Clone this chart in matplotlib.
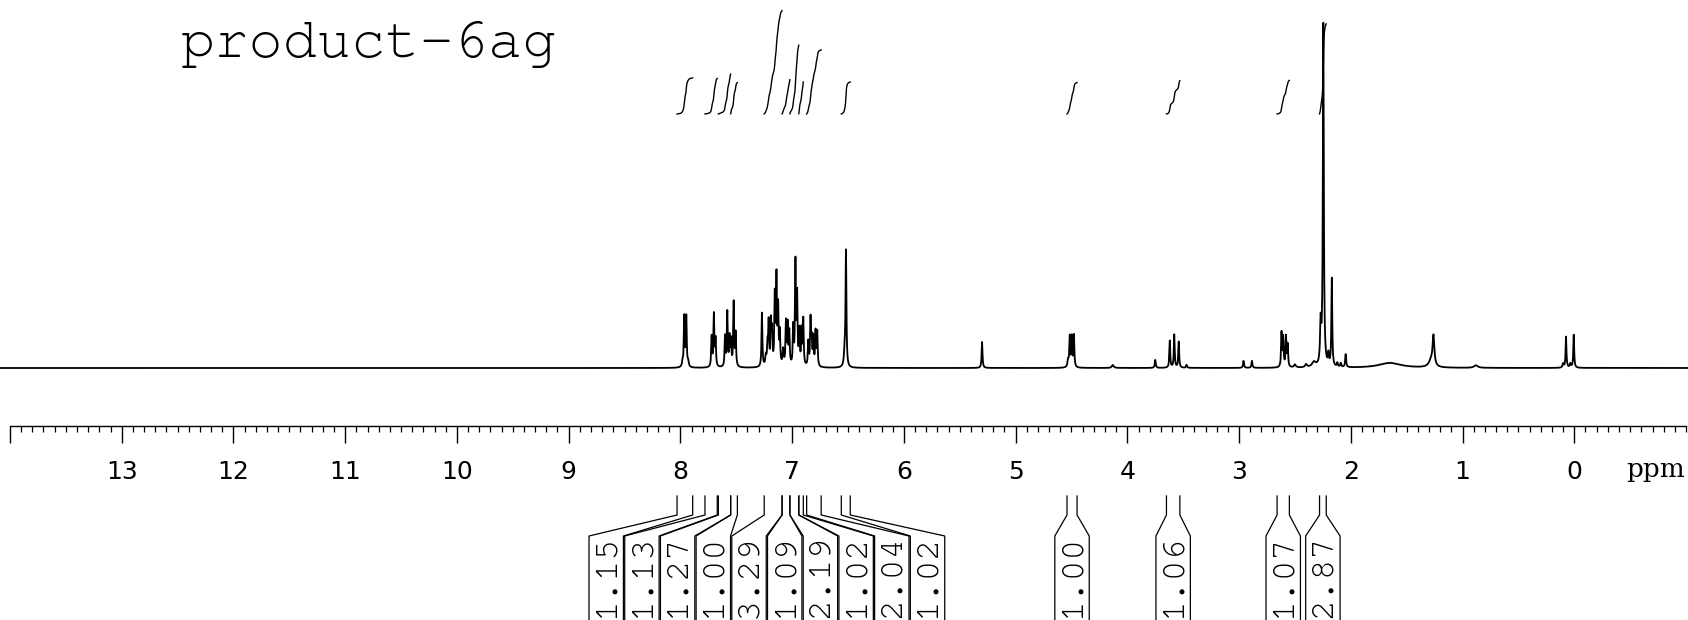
"""1H NMR spectrum of product-6ag with integrals, redrawn from peak table."""
import matplotlib
matplotlib.use("Agg")
import matplotlib.pyplot as plt
from matplotlib import font_manager
import numpy as np
from matplotlib.ticker import FixedLocator, FixedFormatter, MultipleLocator

# peak table: position (ppm), height above baseline, half width (ppm)
peak_ppm = [7.98, 7.965, 7.947, 7.93,
            7.72, 7.70, 7.685,
            7.60, 7.58, 7.56, 7.547, 7.523, 7.505,
            7.27,
            7.235, 7.22, 7.21, 7.19, 7.18, 7.155, 7.14, 7.125, 7.11,
            7.08, 7.055, 7.04, 7.025,
            6.99, 6.97, 6.955, 6.935,
            6.915, 6.90,
            6.855, 6.835, 6.825, 6.81, 6.79, 6.775,
            6.53, 6.518,
            5.30,
            4.53, 4.515, 4.497, 4.478,
            4.13, 3.75,
            3.62, 3.58, 3.54, 3.47,
            2.96, 2.885,
            2.62, 2.605, 2.58, 2.565,
            2.50, 2.40, 2.33,
            2.27, 2.246, 2.20, 2.17, 2.12, 2.09, 2.046,
            1.65, 1.28, 1.26, 0.88,
            0.10, 0.074, 0.035, 0.005]
peak_height = [5, 50, 50, 5,
               30, 52, 27,
               30, 54, 28, 25, 64, 33,
               54,
               10, 20, 42, 42, 32, 68, 86, 56, 32,
               16, 43, 40, 33,
               38, 102, 68, 34,
               35, 46,
               24, 46, 24, 28, 34, 34,
               14, 115,
               26,
               7, 30, 30, 32,
               3, 8,
               27, 33, 26, 3,
               7, 7,
               34, 29, 30, 22,
               3, 3, 5,
               40, 342, 11, 88, 4, 4, 13,
               5, 7, 29, 2.5,
               4, 31, 4, 33]
peak_hwhm = [0.006, 0.0045, 0.0045, 0.006,
             0.0045, 0.0045, 0.0045,
             0.0045, 0.0045, 0.0045, 0.0045, 0.0045, 0.0045,
             0.0045,
             0.006, 0.005, 0.0045, 0.0045, 0.0045, 0.0045, 0.0045, 0.0045, 0.0045,
             0.006, 0.0045, 0.0045, 0.0045,
             0.0045, 0.0045, 0.0045, 0.0045,
             0.0045, 0.0045,
             0.0045, 0.0045, 0.0045, 0.0045, 0.0045, 0.0045,
             0.007, 0.0045,
             0.0045,
             0.007, 0.0045, 0.0045, 0.0045,
             0.01, 0.005,
             0.0045, 0.0045, 0.0045, 0.005,
             0.005, 0.005,
             0.0045, 0.0045, 0.0045, 0.0045,
             0.01, 0.01, 0.02,
             0.006, 0.005, 0.005, 0.0045, 0.005, 0.005, 0.005,
             0.12, 0.025, 0.009, 0.02,
             0.006, 0.0045, 0.006, 0.0045]

# integral regions (ppm) and their normalised values
int_start = [8.03, 7.78, 7.66, 7.55, 7.25, 7.09, 7.02, 6.94, 6.87, 6.56, 4.54, 3.65, 2.66, 2.28]
int_end = [7.89, 7.67, 7.55, 7.49, 7.09, 7.02, 6.94, 6.90, 6.74, 6.48, 4.45, 3.53, 2.55, 2.22]
int_value = [1.15, 1.13, 1.27, 1.00, 3.29, 1.09, 2.19, 1.02, 2.04, 1.02, 1.00, 1.06, 1.07, 2.87]

major_ticks = list(range(0, 15))
tick_labels = [str(t) for t in range(0, 14)] + [""]

# ---- layout constants
INT_BASE = 254      # baseline of the integral curves
INT_SCALE = 31.4    # curve rise per unit integral
AXIS_Y = -58
LABEL_STEP = 0.3195  # spacing between integral label boxes (ppm)
BOX_HALF = 0.154

# courier-like mono font if one is around, else Liberation Mono
installed = {f.name for f in font_manager.fontManager.ttflist}
MONO = 'Liberation Mono'
for cand in ['Courier New', 'Nimbus Mono PS', 'Nimbus Mono L', 'FreeMono', 'Courier']:
    if cand in installed:
        MONO = cand
        break

ppm = np.arange(-1.05, 14.1, 0.0005)
spec = np.zeros_like(ppm)
for p0, h, w in zip(peak_ppm, peak_height, peak_hwhm):
    spec += h / (1 + ((ppm - p0) / w) ** 2)

fig = plt.figure(figsize=(16.88, 6.2), dpi=100)
ax = fig.add_axes([0, 0, 1, 1])
ax.set_xlim(14.089, -1.0175)
ax.set_ylim(-252, 368)

ax.plot(ppm, spec, color='black', lw=1.3)

# integral curves
for s, e, v in zip(int_start, int_end, int_value):
    m = (ppm <= s) & (ppm >= e)
    x = ppm[m][::-1]
    c = np.cumsum(spec[m][::-1])
    c = c / c[-1] * v * INT_SCALE
    ax.plot(x, INT_BASE + c, color='black', lw=1.0)

# spread the integral labels so the boxes do not overlap
natural = [(s + e) / 2 for s, e in zip(int_start, int_end)]
groups = [[i] for i in range(len(natural))]
pos = list(natural)
changed = True
while changed:
    changed = False
    for g in range(len(groups) - 1):
        a, b = groups[g], groups[g + 1]
        if pos[a[-1]] - pos[b[0]] < LABEL_STEP - 1e-9:
            merged = a + b
            centre = np.mean([natural[i] for i in merged])
            n = len(merged)
            for k, i in enumerate(merged):
                pos[i] = centre + LABEL_STEP * ((n - 1) / 2 - k)
            groups[g:g + 2] = [merged]
            changed = True
            break

for s, e, v, c in zip(int_start, int_end, int_value, pos):
    left, right = c + BOX_HALF, c - BOX_HALF
    ax.plot([s, s, left, left], [-128, -147, -168, -260], color='black', lw=0.9)
    ax.plot([e, e, right, right], [-128, -147, -168, -260], color='black', lw=0.9)
    ax.text(c, -167, f"{v:.2f}", rotation=90, rotation_mode='anchor',
            ha='right', va='center', family=MONO, fontsize=25)

# ppm axis
for side in ['top', 'left', 'right']:
    ax.spines[side].set_visible(False)
ax.spines['bottom'].set_position(('data', AXIS_Y))
ax.spines['bottom'].set_bounds(-1, 14)
ax.spines['bottom'].set_linewidth(1.0)
ax.xaxis.set_major_locator(FixedLocator(major_ticks))
ax.xaxis.set_major_formatter(FixedFormatter(tick_labels))
ax.xaxis.set_minor_locator(MultipleLocator(0.1))
ax.tick_params(axis='x', which='major', direction='out', length=12.2, width=1.0,
               labelsize=18, pad=12)
ax.tick_params(axis='x', which='minor', direction='out', length=4.3, width=0.9)
ax.set_yticks([])

fig.text(1656 / 1688, 1 - 477 / 620, 'ppm', family='DejaVu Serif', fontsize=19,
         ha='center', va='baseline')
fig.text(181 / 1688, 1 - 57 / 620, 'product-6ag', family=MONO,
         fontsize=41, va='baseline')

fig.savefig('out.png', dpi=100)
plt.close(fig)
